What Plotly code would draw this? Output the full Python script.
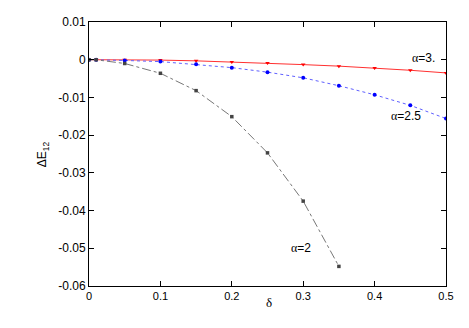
import plotly.graph_objects as go

# Data
delta_a2 = [0, 0.01, 0.05, 0.1, 0.15, 0.2, 0.25, 0.3, 0.35]
dE_a2 = [0, -0.00002, -0.001, -0.0036, -0.0082, -0.0151, -0.0247, -0.0375, -0.0548]

delta_a25 = [0, 0.01, 0.05, 0.1, 0.15, 0.2, 0.25, 0.3, 0.35, 0.4, 0.45, 0.5]
dE_a25 = [0, -0.00001, -0.0002, -0.0005, -0.0012, -0.0021, -0.0033, -0.0048, -0.0069, -0.0093, -0.0121, -0.0156]

delta_a3 = [0, 0.01, 0.05, 0.1, 0.15, 0.2, 0.25, 0.3, 0.35, 0.4, 0.45, 0.5]
dE_a3 = [0, 0.0, -0.00003, -0.0001, -0.0003, -0.0006, -0.0009, -0.0013, -0.0017, -0.0022, -0.0028, -0.0035]

x_ticks = [0, 0.1, 0.2, 0.3, 0.4, 0.5]
x_tick_labels = ["0", "0.1", "0.2", "0.3", "0.4", "0.5"]
y_ticks = [0.01, 0, -0.01, -0.02, -0.03, -0.04, -0.05, -0.06]
y_tick_labels = ["0.01", "0", "-0.01", "-0.02", "-0.03", "-0.04", "-0.05", "-0.06"]

alpha_values = ["2", "2.5", "3."]

font_main = "Liberation Sans, Arial, sans-serif"
font_greek = "Liberation Serif, DejaVu Serif, serif"


def alpha_label(v):
    return ('<span style="font-family:Liberation Serif, DejaVu Serif, serif">α</span>'
            '=' + v)


fig = go.Figure()

fig.add_trace(go.Scatter(
    x=delta_a3, y=dE_a3, mode="lines+markers",
    line=dict(color="#ff3030", width=1),
    marker=dict(symbol="triangle-down", size=4, color="#ff0000"),
))
fig.add_trace(go.Scatter(
    x=delta_a25, y=dE_a25, mode="lines+markers",
    line=dict(color="#6060ff", width=1, dash="dot"),
    marker=dict(symbol="circle", size=4, color="#0000ff"),
))
fig.add_trace(go.Scatter(
    x=delta_a2, y=dE_a2, mode="lines+markers",
    line=dict(color="#777777", width=1, dash="dashdot"),
    marker=dict(symbol="square", size=3.5, color="#444444"),
))

axis_common = dict(
    showgrid=False, zeroline=False, showline=True, linecolor="black", linewidth=1,
    ticks="inside", ticklen=5, tickcolor="black", mirror="allticks",
)

fig.update_xaxes(range=[0, 0.5], tickvals=x_ticks, ticktext=x_tick_labels,
                 tickfont=dict(family=font_main, size=11, color="black"), **axis_common)
fig.update_yaxes(range=[-0.06, 0.01], tickvals=y_ticks, ticktext=y_tick_labels,
                 tickfont=dict(family=font_main, size=12, color="black"), **axis_common)

label_font = dict(family=font_main, size=12, color="black")
annotations = [
    dict(x=0.2966, y=-0.05, xref="x", yref="y", text=alpha_label(alpha_values[0]),
         showarrow=False, font=label_font),
    dict(x=0.4445, y=-0.015, xref="x", yref="y", text=alpha_label(alpha_values[1]),
         showarrow=False, font=label_font),
    dict(x=0.468, y=0.0005, xref="x", yref="y", text=alpha_label(alpha_values[2]),
         showarrow=False, font=label_font),
    dict(x=0.504, y=-0.10, xref="paper", yref="paper", text="δ", showarrow=False,
         font=dict(family=font_greek, size=13, color="black")),
    dict(x=-0.156, y=0.5, xref="paper", yref="paper", text="ΔE<sub>12</sub>", showarrow=False,
         textangle=-90, font=dict(family=font_main, size=12, color="black")),
]

# Page body has an 8px margin, so the figure is 16px smaller than the window
fig.update_layout(
    width=453, height=312,
    margin=dict(l=81, r=7, t=7, b=34),
    plot_bgcolor="white", paper_bgcolor="white",
    showlegend=False,
    annotations=annotations,
)

fig.write_html("out.html")
